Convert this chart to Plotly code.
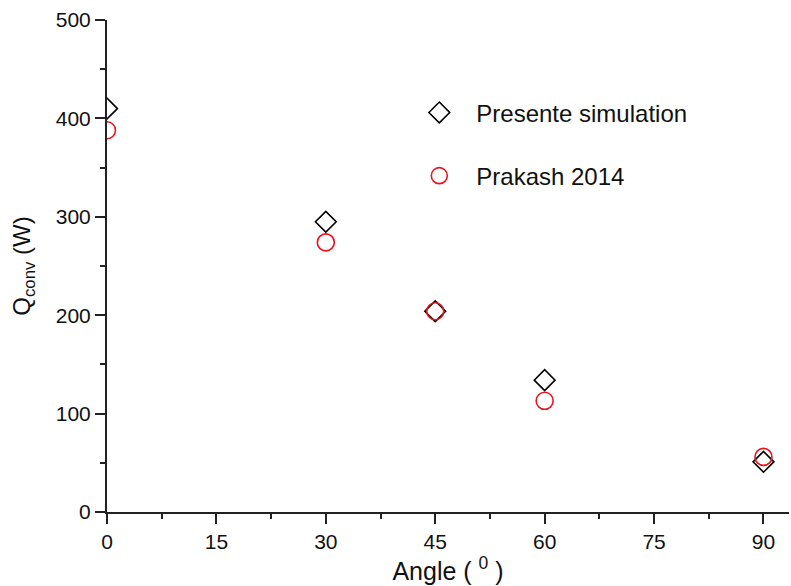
import plotly.graph_objects as go

angles = [0, 30, 45, 60, 90]
q_sim = [410, 295, 204, 134, 51]
q_prakash = [388, 274, 204, 113, 56]

x_ticks = [0, 15, 30, 45, 60, 75, 90]
y_ticks = [0, 100, 200, 300, 400, 500]

FONT = "Arial, Liberation Sans, sans-serif"

fig = go.Figure()
fig.add_trace(go.Scatter(
    x=angles, y=q_sim, mode="markers", name="Presente simulation",
    legendgroup="a",
    marker=dict(symbol="diamond-open", size=16, color="black", line=dict(width=1.6, color="black")),
))
fig.add_trace(go.Scatter(
    x=angles, y=q_prakash, mode="markers", name="Prakash 2014",
    legendgroup="b",
    marker=dict(symbol="circle-open", size=17, color="#e8141c", line=dict(width=1.6, color="#e8141c")),
))

axis_common = dict(
    showline=True, linecolor="#222", linewidth=2,
    ticks="outside", ticklen=10, tickwidth=2, tickcolor="#222",
    showgrid=False, zeroline=False,
    tickfont=dict(family=FONT, size=21, color="#111"),
)

fig.update_xaxes(
    range=[0, 93.5], tickvals=x_ticks, ticktext=[str(v) for v in x_ticks],
    minor=dict(tickvals=[7.5, 22.5, 37.5, 52.5, 67.5, 82.5], ticks="outside", ticklen=5, tickwidth=2, tickcolor="#222"),
    title=dict(text="Angle ( <sup>0</sup> )", font=dict(family=FONT, size=25, color="#111"), standoff=2),
    **axis_common,
)
fig.update_yaxes(
    range=[0, 500], tickvals=y_ticks, ticktext=[str(v) for v in y_ticks],
    minor=dict(tickvals=[50, 150, 250, 350, 450], ticks="outside", ticklen=5, tickwidth=2, tickcolor="#222"),
    title=dict(text="Q<sub>conv</sub> (W)", font=dict(family=FONT, size=24, color="#111"), standoff=18),
    **axis_common,
)

fig.update_layout(
    width=791, height=586,
    margin=dict(l=107, r=2, t=20, b=74),
    paper_bgcolor="white", plot_bgcolor="white",
    showlegend=True,
    legend=dict(
        x=0.433, y=0.857, xanchor="left", yanchor="top",
        font=dict(family=FONT, size=24, color="#111"),
        tracegroupgap=29, bgcolor="rgba(0,0,0,0)", itemwidth=64,
    ),
)

fig.write_html("out.html", config={"displayModeBar": False},
               post_script="document.body.style.margin='0';")
